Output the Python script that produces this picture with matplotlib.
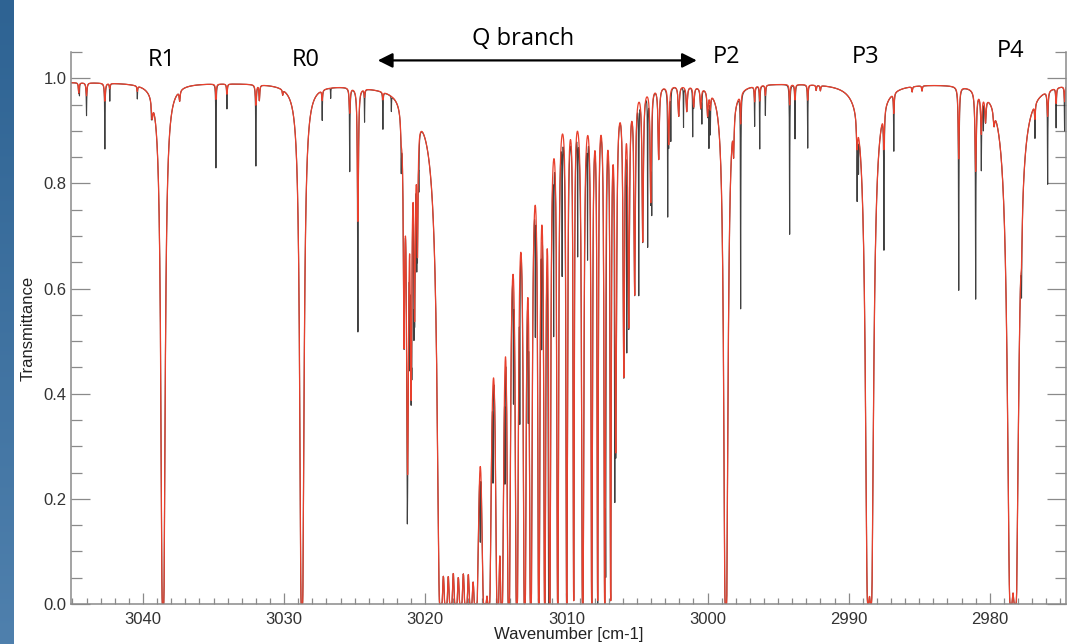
import numpy as np
import matplotlib
matplotlib.use('Agg')
import matplotlib.pyplot as plt
from matplotlib.ticker import MultipleLocator

# normalised continuum level
continuum = 0.993

# model (red) line list: centre [cm-1], peak optical depth, half width [cm-1]
model_pos = [3044.55, 3044.0, 3042.7, 3042.35, 3040.4, 3039.35,
             3038.58, 3037.4, 3034.83, 3034.05, 3032.0, 3031.75, 3030.1,
             3028.74, 3027.3, 3025.35, 3024.77, 3024.3, 3023.0, 3021.7,
             # lines just above the Q branch
             3021.50, 3021.25, 3021.00, 3020.75, 3020.55,
             # Q branch
             3018.90, 3018.54, 3018.19, 3017.83, 3017.48, 3017.12, 3016.77, 3016.42,
             3015.78, 3015.50, 3014.86, 3014.58, 3014.08, 3013.51, 3012.95, 3012.52,
             3011.95, 3011.53, 3011.18, 3010.61, 3009.97, 3009.48, 3008.84, 3008.20,
             3007.78, 3007.28, 3006.86, 3006.50, 3005.93, 3005.58, 3005.16, 3004.59,
             3004.02, 3003.46, 3002.75, 3002.04, 3001.47, 3000.98, 3000.48, 2999.99,
             # P branch
             2999.8, 2998.7, 2998.15, 2997.65, 2996.66, 2996.3, 2995.9, 2994.18,
             2993.8, 2992.9, 2992.3, 2992.0, 2989.4, 2988.62, 2988.42, 2987.5,
             2986.8, 2985.5, 2984.8, 2982.2, 2981.0, 2980.6, 2980.3, 2979.7,
             2978.5, 2978.2, 2977.75, 2976.8, 2975.9, 2975.3, 2974.7]
model_tau = [0.02, 0.025, 0.035, 0.01, 0.01, 0.035,
             25, 0.02, 0.03, 0.02, 0.04, 0.03, 0.01,
             25, 0.02, 0.05, 0.3, 0.015, 0.015, 0.04,
             0.6, 1.3, 0.8, 0.5, 0.3,
             55, 44, 44, 44, 44, 44, 39, 60,
             60, 33, 28, 22, 37.5, 30, 27.5, 25,
             15, 12.5, 12.5, 10, 7.5, 5, 15, 7.5,
             5, 7.5, 5, 1.2, 0.8, 0.6, 0.5, 0.35,
             0.25, 0.15, 0.12, 0.06, 0.05, 0.04, 0.04, 0.05,
             0.03, 25, 0.08, 0.06, 0.03, 0.03, 0.02, 0.04,
             0.03, 0.03, 0.01, 0.01, 0.06, 8, 8, 0.08,
             0.04, 0.01, 0.01, 0.15, 0.17, 0.08, 0.05, 0.03,
             14, 14, 0.1, 0.03, 0.05, 0.03, 0.03]
model_hw = [0.03, 0.04, 0.04, 0.03, 0.03, 0.06,
            0.03, 0.04, 0.03, 0.03, 0.04, 0.03, 0.03,
            0.03, 0.03, 0.04, 0.04, 0.03, 0.03, 0.05,
            0.05, 0.06, 0.05, 0.05, 0.04,
            0.03, 0.03, 0.03, 0.03, 0.03, 0.03, 0.03, 0.03,
            0.03, 0.03, 0.03, 0.03, 0.02, 0.02, 0.02, 0.02,
            0.02, 0.02, 0.02, 0.02, 0.02, 0.02, 0.02, 0.02,
            0.02, 0.02, 0.02, 0.05, 0.05, 0.05, 0.05, 0.05,
            0.05, 0.05, 0.05, 0.05, 0.05, 0.05, 0.05, 0.05,
            0.04, 0.03, 0.04, 0.03, 0.03, 0.03, 0.03, 0.03,
            0.03, 0.03, 0.03, 0.03, 0.05, 0.06, 0.06, 0.04,
            0.03, 0.03, 0.03, 0.04, 0.05, 0.05, 0.05, 0.06,
            0.06, 0.06, 0.05, 0.03, 0.04, 0.03, 0.03]

# narrow features seen only in the measurement (black): centre, peak optical depth
meas_pos = [3044.5, 3044.0, 3042.7, 3042.35, 3040.4, 3039.4, 3034.83, 3034.05,
            3032.0, 3027.3, 3026.7, 3025.35, 3024.77, 3024.3, 3023.0, 3022.4, 3021.7,
            3021.27, 3021.1, 3020.95, 3020.8, 3020.6, 3020.45,
            3016.1, 3015.2, 3014.35, 3013.75, 3013.3, 3012.7, 3012.2, 3011.75,
            3011.25, 3010.9, 3010.3, 3009.97, 3009.2, 3008.84, 3008.5,
            3007.78, 3007.21, 3006.57, 3005.72, 3004.87,
            3004.24, 3003.95, 3002.82, 3002.6, 3001.7, 3001.05, 3000.4, 2999.9,
            2999.8, 2997.65, 2996.66, 2996.3, 2995.9, 2994.18, 2993.8, 2992.9,
            2989.4, 2989.3, 2987.5, 2986.8, 2982.2, 2981.0, 2980.6, 2980.45,
            2977.75, 2976.8, 2975.9, 2975.3, 2974.7]
meas_tau = [0.02, 0.04, 0.1, 0.025, 0.015, 0.02, 0.15, 0.03,
            0.13, 0.04, 0.02, 0.13, 0.35, 0.05, 0.06, 0.03, 0.06,
            0.6, 0.4, 0.3, 0.3, 0.2, 0.1,
            0.8, 0.6, 0.7, 0.5, 0.6, 0.5, 0.4, 0.4,
            6, 0.5, 0.35, 6, 0.3, 6, 0.3,
            1.8, 2.4, 1.2, 0.6, 0.5,
            0.35, 0.2, 0.25, 0.1, 0.08, 0.09, 0.06, 0.1,
            0.05, 0.5, 0.05, 0.1, 0.04, 0.3, 0.08, 0.1,
            0.12, 0.08, 0.25, 0.08, 0.35, 0.35, 0.08, 0.06,
            0.1, 0.04, 0.15, 0.05, 0.06]
meas_hw = 0.012

# band labels
band_names = ['R1', 'R0', 'P2', 'P3', 'P4']
band_x = [3038.65, 3028.5, 2998.64, 2988.8, 2978.5]
band_y = [1.034, 1.034, 1.04, 1.04, 1.051]


def optical_depth(wn, pos, tau, hw):
    od = np.zeros_like(wn)
    hw = np.broadcast_to(hw, len(pos))
    for c, a, g in zip(pos, tau, hw):
        od += a * g**2 / ((wn - c)**2 + g**2)
    return od


wn = np.arange(2974.0, 3045.5, 0.004)
model = continuum * np.exp(-optical_depth(wn, model_pos, model_tau, model_hw))
measured = model * np.exp(-optical_depth(wn, meas_pos, meas_tau, meas_hw))

fig = plt.figure(figsize=(10.67, 6.44), dpi=100)

# slide background strip on the left
bar = fig.add_axes([0, 0, 14 / 1067, 1])
bar.imshow(np.linspace(0, 1, 256)[:, None],
           cmap=matplotlib.colors.LinearSegmentedColormap.from_list('s', ['#2e6393', '#4f80ad']),
           aspect='auto', extent=[0, 1, 0, 1])
bar.axis('off')

ax = fig.add_axes([71 / 1067, 40 / 644, 995 / 1067, 552 / 644])
ax.plot(wn, measured, color='#1e1e1e', lw=0.8, alpha=0.85)
ax.plot(wn, model, color='#e8402d', lw=0.9)

ax.set_xlim(3045.1, 2974.6)
ax.set_ylim(0, 1.05)

axis_gray = '#8a8a8a'
for side in ['left', 'bottom', 'right']:
    ax.spines[side].set_color(axis_gray)
    ax.spines[side].set_linewidth(1.1)
ax.spines['top'].set_visible(False)

ax.xaxis.set_major_locator(MultipleLocator(10))
ax.xaxis.set_minor_locator(MultipleLocator(1))
ax.yaxis.set_major_locator(MultipleLocator(0.2))
ax.yaxis.set_minor_locator(MultipleLocator(0.05))
ax.tick_params(axis='x', which='major', direction='in', length=8, width=0.9,
               color=axis_gray, labelsize=12, labelcolor='#333333', pad=6)
ax.tick_params(axis='x', which='minor', direction='in', length=4, width=0.9, color=axis_gray)
ax.tick_params(axis='y', which='major', direction='in', length=14, width=0.9,
               color=axis_gray, labelsize=12, labelcolor='#333333', pad=3, right=True)
ax.tick_params(axis='y', which='minor', direction='in', length=8, width=0.9,
               color=axis_gray, right=True)
ax.yaxis.set_major_formatter(matplotlib.ticker.FormatStrFormatter('%.1f'))
for lab in ax.get_xticklabels() + ax.get_yticklabels():
    lab.set_family('Liberation Sans')

ax.set_xlabel('Wavenumber [cm-1]', fontsize=12, family='Liberation Sans',
              color='#222222', labelpad=0)
ax.set_ylabel('Transmittance', fontsize=12, family='Liberation Sans',
              color='#222222', labelpad=6)

for name, x, y in zip(band_names, band_x, band_y):
    ax.text(x, y, name, fontsize=17, family='Open Sans', ha='center', va='center',
            clip_on=False)

ax.annotate('', xy=(3000.76, 1.034), xytext=(3023.36, 1.034),
            arrowprops=dict(arrowstyle='<|-|>', color='black', lw=1.6,
                            mutation_scale=22, shrinkA=0, shrinkB=0),
            annotation_clip=False)
ax.text(3013.1, 1.074, 'Q branch', fontsize=17, family='Open Sans',
        ha='center', va='center', clip_on=False)

fig.savefig('out.png', dpi=100)
